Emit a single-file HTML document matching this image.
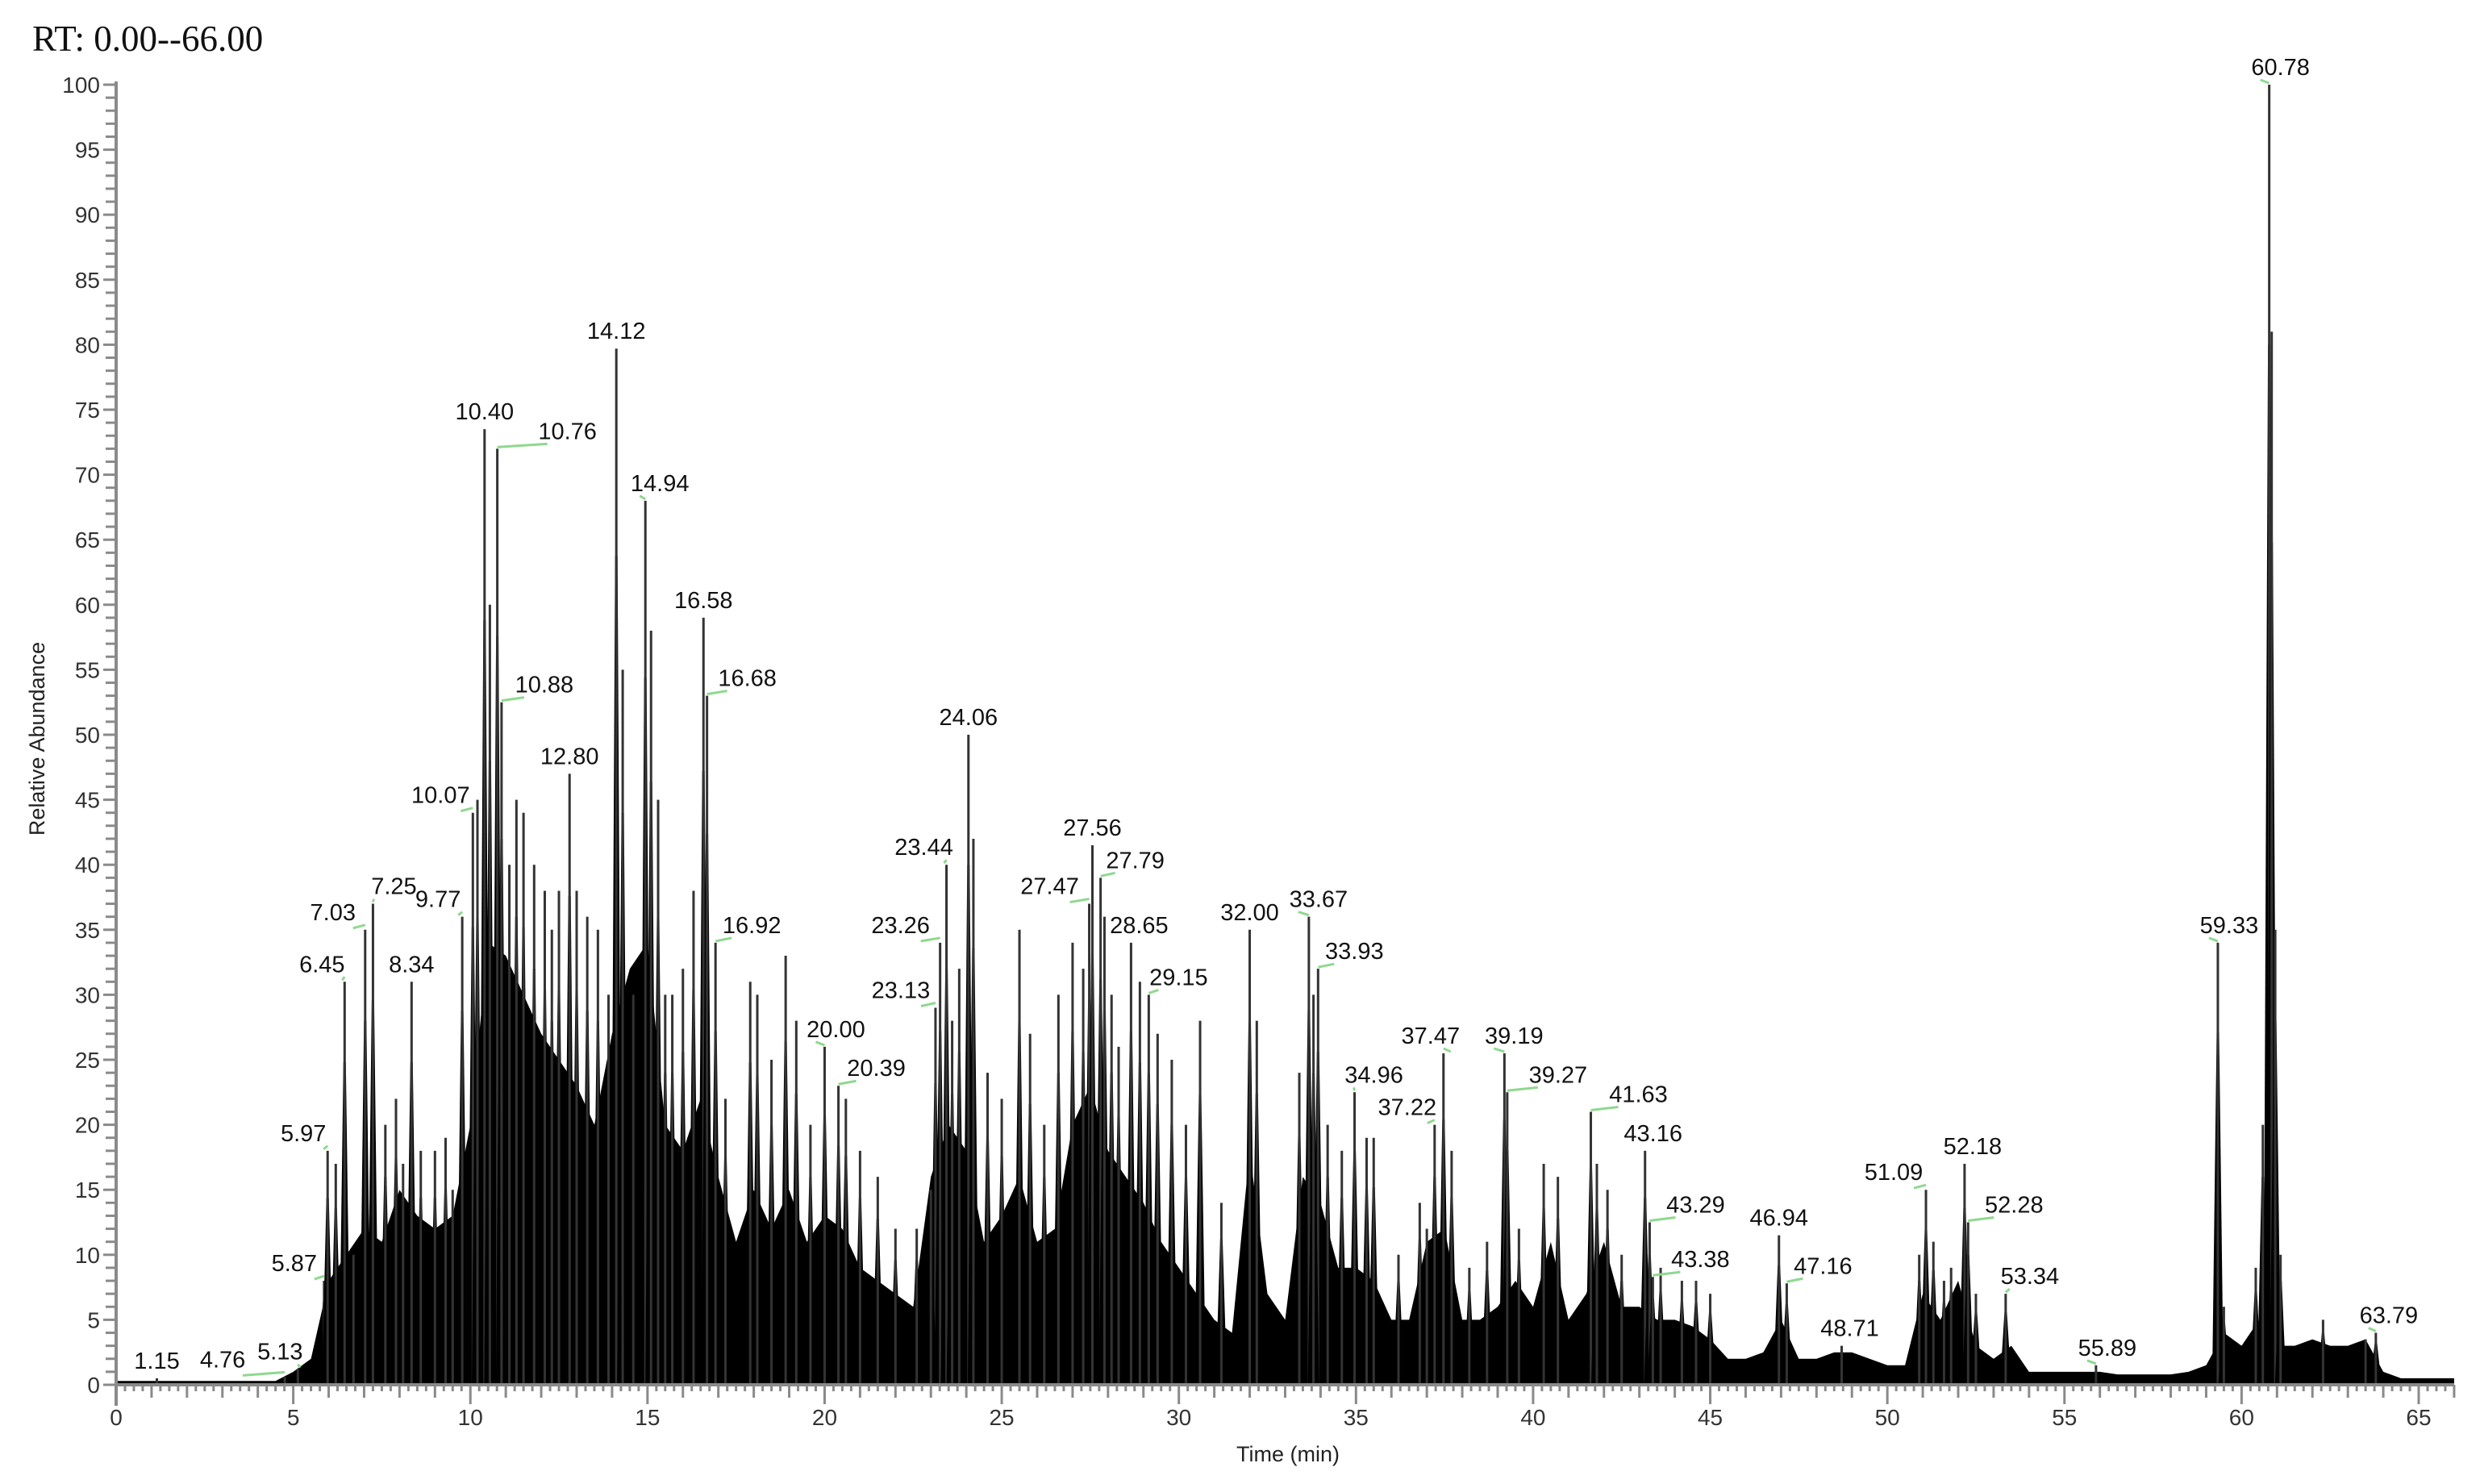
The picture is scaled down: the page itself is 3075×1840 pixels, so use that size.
<!DOCTYPE html>
<html><head><meta charset="utf-8"><style>
html,body{margin:0;padding:0;background:#fff;}
svg{display:block;}
</style></head><body>
<svg id="chart" width="3075" height="1840" viewBox="0 0 3075 1840" xmlns="http://www.w3.org/2000/svg">
<text x="40" y="63" font-family="Liberation Serif, serif" font-size="45" fill="#111">RT: 0.00--66.00</text>
<text transform="translate(55,916) rotate(-90)" text-anchor="middle" font-family="Liberation Sans, sans-serif" font-size="27" fill="#222">Relative Abundance</text>
<text x="1597" y="1812" text-anchor="middle" font-family="Liberation Sans, sans-serif" font-size="27" fill="#222">Time (min)</text>
<g id="mass"></g>
<g id="spikes"></g>
<g id="axes"></g>
<g id="labels"></g>
</svg>
<script>
// Baseline envelope sampled every 0.5 min from 0 to 66
const baseStep = 0.5;
const baseValues = [0.3,0.3,0.3,0.3,0.3,0.3,0.3,0.3,0.3,0.3,
1,2,8,10,12,11,15,13,12,13,
20,34,33,30,27,25,23,20,27,32,
34,20,18,22,16,11,15,12,15,11,
13,12,9,8,7,6,16,20,18,11,
13,16,11,12,20,23,18,16,14,11,
9,7,5,4,18,7,5,16,14,9,
9,8,5,5,11,12,5,5,6,8,
6,11,5,7,11,6,6,5,5,4.5,
3.5,2,2,2.5,5,2,2,2.5,2.5,2,
1.5,1.5,7,5,8,3,2,3,1,1,
1,1,1,0.8,0.8,0.8,0.8,1,1.5,4,
3,5,3,3,3.5,3,3,3.5,1,0.5,
0.5,0.5,0.5];
// Labeled peaks
const labelRT = [1.15,4.76,5.13,5.87,5.97,6.45,7.03,7.25,8.34,9.77,10.07,10.40,10.76,10.88,12.80,14.12,14.94,16.58,16.68,16.92,20.00,20.39,23.13,23.26,23.44,24.06,27.47,27.56,27.79,28.65,29.15,32.00,33.67,33.93,34.96,37.22,37.47,39.19,39.27,41.63,43.16,43.29,43.38,46.94,47.16,48.71,51.09,52.18,52.28,53.34,55.89,59.33,60.78,63.79];
const labelHeight = [0.5,0.6,1.2,8,18,31,35,37,31,36,44,73.5,72,52.5,47,79.7,68,59,53,34,26,23,29,34,40,50,37,41.5,39,34,30,35,36,32,22.5,20,25.5,25.5,22.5,21,18,12.5,8.3,11.5,7.8,3,15,17,12.5,7,1.5,34,100,4];
const labelDx = [0,-77,-22,-37,-30,-28,-40,26,0,-30,-40,0,87,53,0,0,18,0,50,45,14,47,-43,-49,-28,0,-49,0,43,10,37,0,12,45,24,-34,-16,12,63,59,10,57,59,0,45,10,-40,10,57,30,14,14,14,16];
// Unlabeled spikes
const spikeRT = [6.2,6.7,7.6,7.9,8.1,8.6,9.0,9.3,9.5,10.2,10.55,11.1,11.3,11.5,11.8,12.1,12.3,12.5,13.0,13.3,13.6,13.9,14.3,14.6,15.1,15.3,15.5,15.7,16.0,16.3,17.2,17.9,18.1,18.5,18.9,19.2,19.6,20.6,21.0,21.5,22.0,22.6,23.0,23.6,23.8,24.2,24.6,25.0,25.5,25.8,26.2,26.6,27.0,27.3,27.9,28.1,28.3,28.9,29.4,29.8,30.2,30.6,31.2,32.2,33.4,33.8,34.2,34.6,35.3,35.5,36.2,36.8,37.0,37.7,38.2,38.7,39.6,40.3,40.7,41.8,42.1,42.5,43.6,44.2,44.6,45.0,50.9,51.3,51.6,51.8,52.5,59.5,60.4,60.6,60.85,60.95,61.1,62.3,63.5];
const spikeHeight = [17,10,20,22,17,18,18,19,15,45,60,40,45,44,40,38,35,38,38,36,35,30,55,30,58,45,30,30,32,38,22,31,30,25,33,28,20,22,18,16,12,12,15,28,32,42,24,22,35,27,20,30,34,32,36,30,26,31,27,25,20,28,14,28,24,30,20,18,19,19,10,14,12,18,9,11,12,17,16,17,15,10,9,8,8,7,10,11,8,9,7,6,9,20,81,35,10,5,3.5];
const xTicks = [0,5,10,15,20,25,30,35,40,45,50,55,60,65];
const yTicks = [0,5,10,15,20,25,30,35,40,45,50,55,60,65,70,75,80,85,90,95,100];

const X0=144, X1=2999, XMAX=65, Y0=1717, Y100=105;
const xs = t => X0 + (X1-X0)*t/XMAX;
const ys = v => Y0 - (Y0-Y100)*v/100;
const NS='http://www.w3.org/2000/svg';
function mk(tag, attrs, parent){const e=document.createElementNS(NS,tag);for(const k in attrs)e.setAttribute(k,attrs[k]);parent.appendChild(e);return e;}

// envelope
const mass=document.getElementById('mass');
let d='M'+xs(0)+','+Y0;
baseValues.forEach((v,i)=>{d+=' L'+xs(i*baseStep).toFixed(1)+','+ys(v).toFixed(1);});
d+=' L'+xs((baseValues.length-1)*baseStep)+','+Y0+' Z';
const env=mk('path',{d:d,fill:'#000'},mass);



// spikes
const spk=document.getElementById('spikes');
const allRT=labelRT.concat(spikeRT), allH=labelHeight.concat(spikeHeight);
allRT.forEach((t,i)=>{
  const h=allH[i], x=xs(t);
  if(h>3){
    const tri=mk('polygon',{points:(xs(t-0.16)).toFixed(1)+','+Y0+' '+(x-1.5).toFixed(1)+','+ys(h*0.8).toFixed(1)+' '+(x+1.5).toFixed(1)+','+ys(h*0.8).toFixed(1)+' '+(xs(t+0.16)).toFixed(1)+','+Y0,fill:'#000'},spk);
    
    
  }
  const ln=mk('line',{x1:x,y1:Y0,x2:x,y2:ys(h),stroke:'#333','stroke-width':3},spk);
  
  
});

// axes
const ax=document.getElementById('axes');
const yl=mk('line',{x1:X0,y1:Y100-4,x2:X0,y2:Y0+26,stroke:'#8a8a8a','stroke-width':4},ax);


const xl=mk('line',{x1:X0-2,y1:Y0,x2:xs(66),y2:Y0,stroke:'#8a8a8a','stroke-width':4},ax);


for(let v=0;v<=100;v++){
  const big=v%5===0;
  const tk=mk('line',{x1:X0-(big?16:13),y1:ys(v),x2:X0,y2:ys(v),stroke:'#8a8a8a','stroke-width':3},ax);
  
  
}
yTicks.forEach(v=>{
  const t=mk('text',{x:X0-20,y:ys(v)+10,'text-anchor':'end','font-family':'Liberation Sans, sans-serif','font-size':28,fill:'#333'},ax);
  t.textContent=v;
  
  
});
for(let i=0;i<=66*4;i++){
  const t=i/4, major=i%20===0, mid=i%4===0;
  const tk=mk('line',{x1:xs(t),y1:Y0,x2:xs(t),y2:Y0+(major?24:mid?16:8),stroke:'#8a8a8a','stroke-width':3},ax);
  
  
}
xTicks.forEach(v=>{
  const t=mk('text',{x:xs(v),y:1767,'text-anchor':'middle','font-family':'Liberation Sans, sans-serif','font-size':28,fill:'#333'},ax);
  t.textContent=v;
  
  
});

// labels
const lg=document.getElementById('labels');
labelRT.forEach((t,i)=>{
  const x=xs(t), y=ys(labelHeight[i]), dx=labelDx[i];
  const lx=x+dx;
  if(Math.abs(dx)>10){
    const a=dx>0? x : lx+25, b=dx>0? lx-25 : x;
    const ld=mk('line',{x1:a,y1:y-2,x2:b,y2:y-6,stroke:'#8fd88f','stroke-width':3},lg);
    
    
  }
  const tx=mk('text',{x:lx,y:y-12,'text-anchor':'middle','font-family':'Liberation Sans, sans-serif','font-size':29,fill:'#111'},lg);
  tx.textContent=t.toFixed(2);
  
  
});
</script>
</body></html>
